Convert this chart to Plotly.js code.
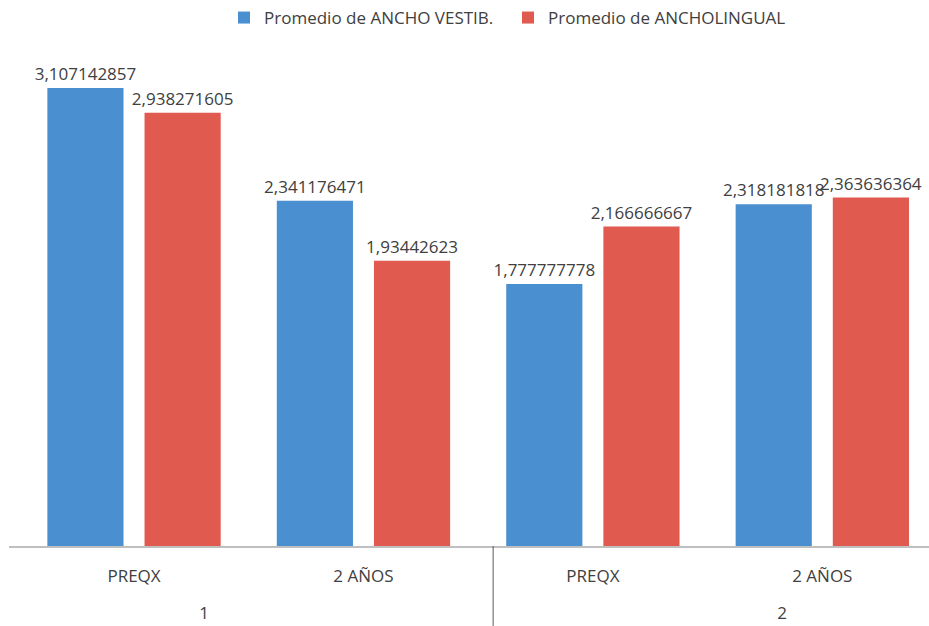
<!DOCTYPE html>
<html>
<head>
<meta charset="utf-8">
<script src="https://cdn.plot.ly/plotly-3.0.1.min.js"></script>
<style>html,body{margin:0;padding:0;background:#fff;}#chart{width:929px;height:626px;}</style>
</head>
<body>
<div id="chart"></div>
<script>
var periods = ["PREQX", "2 AÑOS", "PREQX", "2 AÑOS"];
var groupLabels = ["1", "2"];
var groupOf = [0, 0, 1, 1];
var seriesNames = ["Promedio de ANCHO VESTIB.", "Promedio de ANCHOLINGUAL"];
var vestib = [3.107142857, 2.341176471, 1.777777778, 2.318181818];
var lingual = [2.938271605, 1.93442623, 2.166666667, 2.363636364];

// category index positions and group centres derived from the category arrays
var xIdx = periods.map(function (p, i) { return i; });
var groupCentres = groupLabels.map(function (g, gi) {
  var idx = xIdx.filter(function (i) { return groupOf[i] === gi; });
  return (idx[0] + idx[idx.length - 1]) / 2;
});
var groupBoundary = (xIdx.filter(function (i) { return groupOf[i] === 0; }).pop() +
                     xIdx.filter(function (i) { return groupOf[i] === 1; })[0]) / 2;

function labels(vals) { return vals.map(function (v) { return String(v).replace('.', ','); }); }

var FONT = 'Open Sans, sans-serif';
var textFont = {family: FONT, size: 17, color: '#404040'};
var xRange = [-0.545, 3.465];
var groupAxisRange = [-0.175, 3.008];

var traces = [
  {type: 'bar', name: seriesNames[0], x: xIdx, y: vestib,
   marker: {color: '#4a8fcf'}, text: labels(vestib), textposition: 'outside',
   textfont: textFont, constraintext: 'none', cliponaxis: false, hoverinfo: 'none'},
  {type: 'bar', name: seriesNames[1], x: xIdx, y: lingual,
   marker: {color: '#e05a50'}, text: labels(lingual), textposition: 'outside',
   textfont: textFont, constraintext: 'none', cliponaxis: false, hoverinfo: 'none'},
  // invisible trace to activate the group-label axis
  {type: 'scatter', x: groupCentres, y: [0, 0], xaxis: 'x2', yaxis: 'y',
   mode: 'markers', marker: {opacity: 0}, showlegend: false, hoverinfo: 'none'}
];

var layout = {
  width: 929, height: 626,
  margin: {l: 9, r: 0, t: 29, b: 80},
  paper_bgcolor: '#ffffff', plot_bgcolor: '#ffffff',
  barmode: 'group', bargap: 0.153, bargroupgap: 0.216,
  showlegend: true,
  legend: {orientation: 'h', x: 0.2337, xanchor: 'left', y: 1.023, yanchor: 'middle',
           font: {family: FONT, size: 17, color: '#404040'},
           itemwidth: 30, entrywidth: 239, entrywidthmode: 'pixels', traceorder: 'normal'},
  xaxis: {type: 'linear', range: xRange, tickmode: 'array', tickvals: xIdx, ticktext: periods,
          showline: true, linecolor: '#bfbfbf', linewidth: 1.5,
          showgrid: false, zeroline: false, ticks: 'outside', ticklen: 14,
          tickcolor: 'rgba(0,0,0,0)',
          tickfont: {family: FONT, size: 17, color: '#404040'}},
  xaxis2: {type: 'linear', overlaying: 'x', anchor: 'y', side: 'bottom', range: groupAxisRange,
           tickmode: 'array', tickvals: groupCentres, ticktext: groupLabels,
           showline: false, showgrid: false, zeroline: false,
           ticks: 'outside', ticklen: 52, tickcolor: 'rgba(0,0,0,0)',
           tickfont: {family: FONT, size: 17, color: '#404040'}},
  yaxis: {range: [0, 3.5], visible: false, showgrid: false, zeroline: false},
  shapes: [{type: 'line', xref: 'x2', yref: 'paper', x0: groupBoundary, x1: groupBoundary,
            y0: 0, y1: -0.155, line: {color: '#595959', width: 1}}],
  font: {family: FONT, color: '#404040'}
};

Plotly.newPlot('chart', traces, layout, {displayModeBar: false, staticPlot: true});
</script>
</body>
</html>
